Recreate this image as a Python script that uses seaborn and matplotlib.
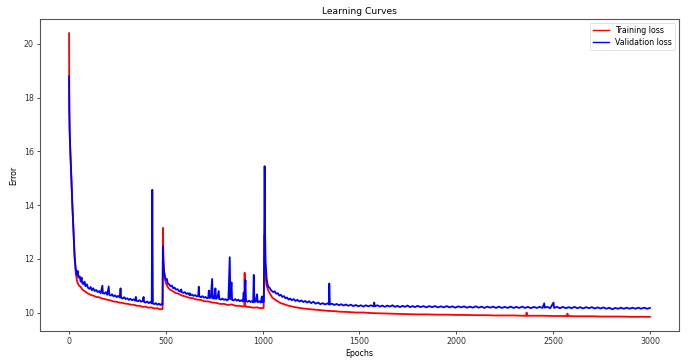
import matplotlib
matplotlib.use("Agg")
import matplotlib.pyplot as plt
import seaborn as sns
import pandas as pd

# (epoch, loss) readings for each curve
train_points = [
    (0, 20.40), (1, 18.60), (3, 16.90), (5, 16.30), (8, 15.70), (12, 15.00), (17, 14.00),
    (22, 13.20), (29, 12.00), (35, 11.45), (42, 11.15), (50, 11.02), (60, 10.95), (70, 10.85),
    (80, 10.80), (95, 10.72), (110, 10.66), (125, 10.63), (140, 10.58), (155, 10.57),
    (170, 10.52), (185, 10.50), (200, 10.47), (215, 10.45), (230, 10.41), (245, 10.40),
    (260, 10.37), (275, 10.36), (290, 10.33), (305, 10.32), (320, 10.29), (335, 10.29),
    (350, 10.25), (365, 10.25), (380, 10.21), (395, 10.22), (410, 10.18), (425, 10.19),
    (440, 10.15), (455, 10.16), (470, 10.12), (483, 10.13),
    (485, 13.15), (487, 12.10), (490, 11.60), (495, 11.25), (500, 11.10), (510, 10.95),
    (520, 10.86), (535, 10.80), (550, 10.73), (565, 10.70), (580, 10.64), (600, 10.60),
    (620, 10.55), (640, 10.53), (660, 10.48), (680, 10.47), (700, 10.42), (720, 10.41),
    (740, 10.37), (760, 10.36), (780, 10.32), (800, 10.32), (820, 10.28), (840, 10.30),
    (860, 10.25), (880, 10.25), (900, 10.22), (905, 10.24), (907, 11.48), (909, 10.30),
    (915, 10.21), (930, 10.21), (950, 10.18), (970, 10.19), (990, 10.16), (1005, 10.17),
    (1010, 12.90), (1012, 11.90), (1015, 11.30), (1020, 11.00), (1030, 10.80), (1050, 10.55),
    (1070, 10.45), (1090, 10.36), (1110, 10.31), (1130, 10.26), (1160, 10.21), (1190, 10.17),
    (1220, 10.14), (1250, 10.12), (1280, 10.10), (1310, 10.08), (1340, 10.06), (1370, 10.05),
    (1400, 10.03), (1440, 10.02), (1480, 10.00), (1520, 10.00), (1560, 9.98), (1600, 9.97),
    (1650, 9.96), (1700, 9.95), (1750, 9.94), (1800, 9.93), (1850, 9.93), (1900, 9.92),
    (1950, 9.92), (2000, 9.91), (2050, 9.91), (2100, 9.90), (2150, 9.90), (2200, 9.89),
    (2250, 9.89), (2300, 9.89), (2340, 9.88), (2361, 9.88), (2363, 10.00), (2365, 9.88),
    (2400, 9.88), (2450, 9.88), (2500, 9.87), (2540, 9.87), (2572, 9.87), (2574, 9.96),
    (2576, 9.87), (2610, 9.86), (2650, 9.86), (2700, 9.86), (2750, 9.85), (2800, 9.85),
    (2850, 9.85), (2900, 9.84), (2950, 9.84), (3000, 9.84),
]

val_points = [
    (0, 18.80), (1, 17.60), (3, 16.80), (5, 16.35), (8, 15.75), (12, 15.05), (17, 14.05),
    (22, 13.25), (29, 12.10), (35, 11.60), (40, 11.40), (45, 11.55), (48, 11.30), (55, 11.35),
    (60, 11.15), (65, 11.30), (68, 11.10), (75, 11.05), (80, 11.15), (85, 10.98), (92, 11.05),
    (98, 10.92), (105, 10.88), (112, 10.95), (118, 10.83), (125, 10.90), (132, 10.80),
    (140, 10.84), (148, 10.76), (156, 10.80), (164, 10.72), (172, 11.00), (175, 10.72),
    (183, 10.70), (190, 10.76), (197, 10.66), (205, 10.97), (208, 10.66), (215, 10.63),
    (222, 10.68), (230, 10.60), (238, 10.64), (246, 10.57), (254, 10.62), (262, 10.56),
    (266, 10.90), (269, 10.55), (277, 10.52), (285, 10.57), (293, 10.50), (301, 10.53),
    (309, 10.47), (317, 10.51), (325, 10.46), (333, 10.49), (341, 10.44), (345, 10.58),
    (348, 10.44), (356, 10.42), (364, 10.46), (372, 10.40), (380, 10.43), (385, 10.58),
    (388, 10.39), (396, 10.37), (404, 10.41), (412, 10.35), (420, 10.39), (427, 10.34),
    (430, 14.57), (433, 10.34), (440, 10.31), (448, 10.35), (456, 10.29), (464, 10.33),
    (472, 10.28), (480, 10.32), (483, 10.30),
    (485, 12.47), (487, 11.90), (490, 11.55), (495, 11.35), (500, 11.22), (505, 11.25),
    (510, 11.08), (517, 11.05), (524, 10.98), (531, 11.00), (538, 10.90), (545, 10.93),
    (552, 10.85), (560, 10.87), (568, 10.80), (575, 10.78), (579, 10.86), (582, 10.76),
    (590, 10.73), (598, 10.76), (606, 10.69), (614, 10.72), (621, 10.66), (624, 10.72),
    (627, 10.64), (635, 10.67), (643, 10.62), (651, 10.65), (659, 10.60), (667, 10.62),
    (670, 10.96), (673, 10.60), (681, 10.57), (689, 10.61), (697, 10.55), (705, 10.58),
    (713, 10.53), (719, 10.56), (722, 10.82), (725, 10.54), (732, 10.55), (739, 11.25),
    (742, 10.53), (750, 10.52), (756, 10.90), (759, 10.51), (766, 10.55), (773, 10.80),
    (776, 10.50), (784, 10.48), (792, 10.52), (800, 10.47), (808, 10.50), (816, 10.45),
    (823, 10.49), (830, 12.06), (833, 10.50), (839, 11.12), (842, 10.47), (850, 10.45),
    (858, 10.50), (866, 10.44), (874, 10.48), (882, 10.42), (890, 10.46), (898, 10.41),
    (902, 10.75), (905, 10.43), (911, 11.21), (914, 10.43), (922, 10.40), (930, 10.44),
    (938, 10.39), (946, 10.43), (951, 10.38), (954, 11.40), (957, 10.39), (964, 10.41),
    (971, 10.68), (974, 10.38), (982, 10.42), (990, 10.37), (996, 10.60), (999, 10.38),
    (1006, 10.40),
    (1010, 15.45), (1012, 13.20), (1015, 11.90), (1020, 11.30), (1025, 11.05), (1030, 10.95),
    (1036, 10.92), (1042, 10.84), (1048, 10.80), (1055, 10.76), (1062, 10.79), (1070, 10.70),
    (1078, 10.72), (1086, 10.63), (1094, 10.66), (1102, 10.58), (1110, 10.61), (1118, 10.53),
    (1126, 10.56), (1134, 10.48), (1142, 10.52), (1150, 10.46), (1160, 10.50), (1170, 10.43),
    (1180, 10.47), (1190, 10.41), (1200, 10.45), (1210, 10.39), (1220, 10.43), (1230, 10.37),
    (1240, 10.42), (1250, 10.35), (1262, 10.40), (1274, 10.33), (1286, 10.37), (1298, 10.31),
    (1310, 10.35), (1322, 10.30), (1334, 10.34), (1342, 10.30), (1344, 11.08), (1347, 10.30),
    (1358, 10.33), (1370, 10.28), (1382, 10.32), (1394, 10.27), (1406, 10.31), (1418, 10.26),
    (1430, 10.30), (1442, 10.25), (1455, 10.29), (1468, 10.24), (1481, 10.28), (1494, 10.23),
    (1507, 10.27), (1520, 10.22), (1533, 10.27), (1546, 10.23), (1559, 10.27), (1573, 10.23),
    (1576, 10.37), (1579, 10.23), (1592, 10.27), (1605, 10.22), (1618, 10.26), (1631, 10.21),
    (1644, 10.26), (1657, 10.22), (1670, 10.27), (1683, 10.21), (1696, 10.25), (1709, 10.20),
    (1722, 10.25), (1735, 10.21), (1748, 10.26), (1761, 10.20), (1774, 10.24), (1787, 10.20),
    (1800, 10.25), (1815, 10.20), (1830, 10.24), (1845, 10.19), (1860, 10.24), (1875, 10.20),
    (1890, 10.24), (1905, 10.19), (1920, 10.23), (1935, 10.19), (1950, 10.24), (1965, 10.19),
    (1980, 10.23), (1995, 10.18), (2010, 10.23), (2025, 10.19), (2040, 10.23), (2055, 10.18),
    (2070, 10.22), (2085, 10.18), (2100, 10.23), (2115, 10.18), (2130, 10.22), (2145, 10.17),
    (2160, 10.22), (2175, 10.18), (2190, 10.22), (2205, 10.17), (2220, 10.22), (2235, 10.17),
    (2250, 10.21), (2265, 10.17), (2280, 10.22), (2295, 10.17), (2310, 10.21), (2325, 10.17),
    (2340, 10.22), (2355, 10.17), (2370, 10.21), (2385, 10.16), (2400, 10.21), (2415, 10.17),
    (2430, 10.21), (2445, 10.17), (2454, 10.34), (2457, 10.18), (2470, 10.21), (2485, 10.16),
    (2502, 10.37), (2505, 10.17), (2520, 10.21), (2535, 10.16), (2550, 10.21), (2565, 10.16),
    (2580, 10.20), (2595, 10.16), (2610, 10.21), (2625, 10.16), (2640, 10.20), (2655, 10.15),
    (2670, 10.20), (2685, 10.16), (2700, 10.20), (2715, 10.15), (2730, 10.19), (2745, 10.15),
    (2760, 10.19), (2775, 10.14), (2790, 10.18), (2805, 10.12), (2820, 10.17), (2835, 10.14),
    (2850, 10.18), (2865, 10.14), (2880, 10.18), (2895, 10.14), (2910, 10.18), (2925, 10.14),
    (2940, 10.18), (2955, 10.14), (2970, 10.18), (2985, 10.14), (3000, 10.17),
]

series_names = ["Training loss", "Validation loss"]
series_colors = ["red", "blue"]

frames = []
for name, pts in zip(series_names, [train_points, val_points]):
    ep, loss = zip(*pts)
    frames.append(pd.DataFrame({"Epochs": ep, "Error": loss, "series": name}))
df = pd.concat(frames, ignore_index=True)

plt.rcParams["font.family"] = ["DejaVu Sans"]
fig = plt.figure(figsize=(6.99, 3.60), dpi=100)
ax = fig.add_axes([0.0572, 0.0806, 0.9142, 0.8664])

sns.lineplot(
    data=df, x="Epochs", y="Error", hue="series",
    hue_order=series_names, palette=dict(zip(series_names, series_colors)),
    estimator=None, sort=False, linewidth=1.3, ax=ax,
)

ax.set_title("Learning Curves", fontsize=6.6, pad=4)
ax.set_xlabel("Epochs", fontsize=5.7, labelpad=2)
ax.set_ylabel("Error", fontsize=5.7, labelpad=4)
ax.tick_params(labelsize=5.7, length=2.5, width=0.6, pad=2, colors="#333333")
for s in ax.spines.values():
    s.set_color("#555555")
    s.set_linewidth(0.8)

leg = ax.legend(loc="upper right", fontsize=5.7, frameon=True, handlelength=2.0,
                borderpad=0.4, labelspacing=0.3, fancybox=True)
leg.get_frame().set_linewidth(0.5)
for line in leg.get_lines():
    line.set_linewidth(1.0)

fig.savefig("out.png", dpi=100)
